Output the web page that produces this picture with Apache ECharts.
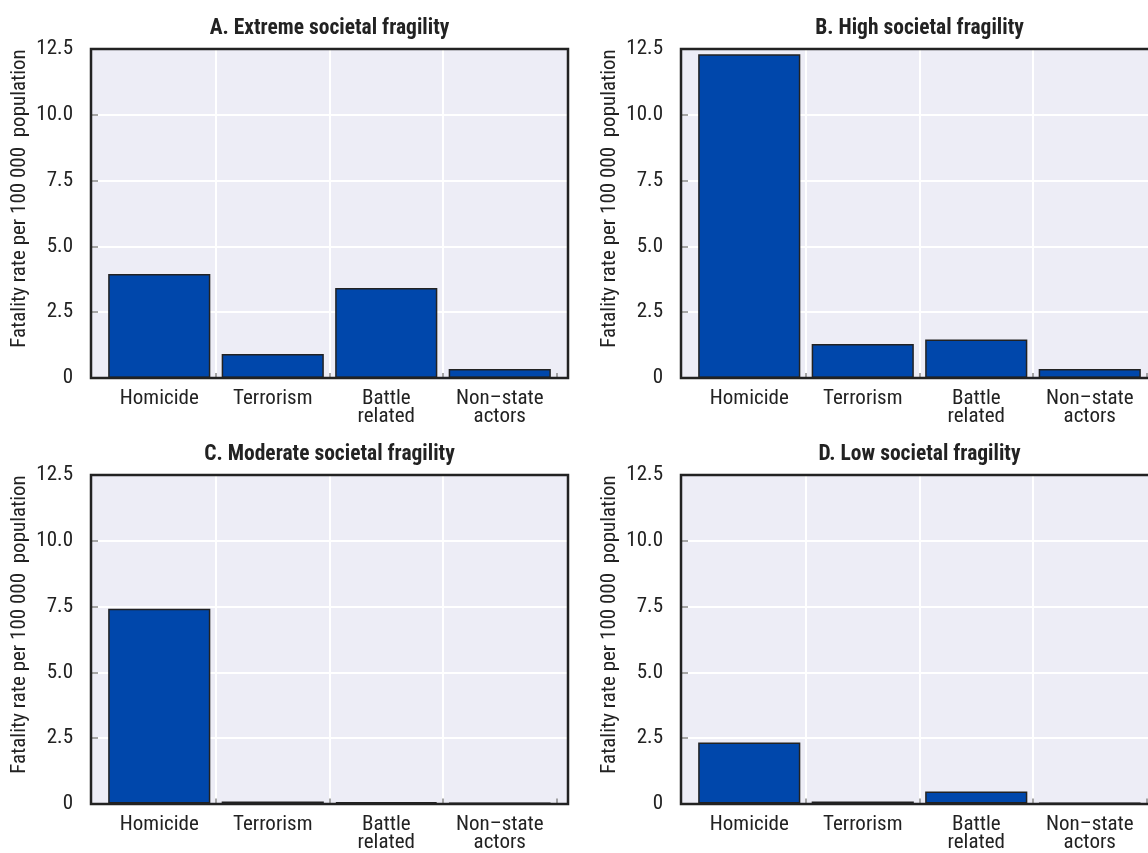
<!DOCTYPE html>
<html>
<head>
<meta charset="utf-8">
<script src="https://cdn.jsdelivr.net/npm/echarts@6/dist/echarts.min.js"></script>
<style>
html,body{margin:0;padding:0;background:#fff;}
#chart{width:1148px;height:853px;}
</style>
</head>
<body>
<div id="chart"></div>
<script>
const categories = ['Homicide', 'Terrorism', 'Battle\nrelated', 'Non\u2013state\nactors'];
const panelTitles = ['A. Extreme societal fragility', 'B. High societal fragility', 'C. Moderate societal fragility', 'D. Low societal fragility'];
const extremeValues = [3.95, 0.91, 3.42, 0.34];
const highValues = [12.3, 1.29, 1.46, 0.34];
const moderateValues = [7.41, 0.08, 0.05, 0.02];
const lowValues = [2.32, 0.08, 0.46, 0.02];
const yMin = 0, yMax = 12.5, yStep = 2.5;
const yAxisName = 'Fatality rate per 100 000  population';

const panelValues = [extremeValues, highValues, moderateValues, lowValues];
const FONT = "'Liberation Sans Narrow', 'Arial Narrow', 'Roboto Condensed', sans-serif";
const TXT = '#222';
const frames = [{left: 91, top: 49}, {left: 681, top: 49}, {left: 91, top: 475}, {left: 681, top: 475}];
const W = 477, H = 329, PAD = 11.5;

const grid = [], xAxis = [], yAxis = [], series = [], graphic = [];
frames.forEach((f, i) => {
  // frame grid (background + axis)
  grid.push({left: f.left, top: f.top, width: W, height: H, show: true,
    backgroundColor: '#EDEDF6', borderWidth: 0});
  // data grid (inset categories)
  grid.push({left: f.left + PAD, top: f.top, width: W - 2 * PAD, height: H, show: false});
  const fg = 2 * i, dg = 2 * i + 1;
  xAxis.push({gridIndex: fg, type: 'value', min: 0, max: 1, show: false});
  yAxis.push({gridIndex: fg, type: 'value', min: yMin, max: yMax, interval: yStep,
    axisLine: {show: false},
    axisTick: {show: true, inside: true, length: 7, lineStyle: {color: '#888', width: 1.5}},
    axisLabel: {color: TXT, fontFamily: FONT, fontSize: 21, margin: 18,
      formatter: v => v === 0 ? '0' : v.toFixed(1)},
    splitLine: {show: true, showMinLine: false, showMaxLine: false, lineStyle: {color: '#fff', width: 2}},
    name: yAxisName, nameLocation: 'middle', nameGap: 61, nameRotate: 90,
    nameTextStyle: {color: TXT, fontFamily: FONT, fontSize: 21, padding: [0, 0, 0, 30]}
  });
  xAxis.push({gridIndex: dg, type: 'category', data: categories, boundaryGap: true,
    axisLine: {show: false},
    axisTick: {show: true, inside: true, length: 5, lineStyle: {color: '#888', width: 1.5},
      interval: (idx) => idx !== 0},
    axisLabel: {color: TXT, fontFamily: FONT, fontSize: 21, lineHeight: 18, margin: 12, interval: 0},
    splitLine: {show: true, showMinLine: false, showMaxLine: false, lineStyle: {color: '#fff', width: 2}}
  });
  yAxis.push({gridIndex: dg, type: 'value', min: yMin, max: yMax, interval: yStep, show: false,
    splitLine: {show: false}});
  series.push({type: 'bar', xAxisIndex: dg, yAxisIndex: dg,
    data: panelValues[i], barWidth: '90%', z: 3,
    itemStyle: {color: '#0047AB', borderColor: '#222', borderWidth: 1.5}});
  // plot frame on top
  graphic.push({type: 'rect', z: 100, silent: true,
    shape: {x: f.left, y: f.top, width: W, height: H},
    style: {fill: 'none', stroke: '#222', lineWidth: 2.5}});
  graphic.push({type: 'text', x: f.left + W / 2, y: f.top - 20,
    style: {text: panelTitles[i], textAlign: 'center', textVerticalAlign: 'middle',
      fill: TXT, font: "bold 21.5px " + FONT}});
});

const chart = echarts.init(document.getElementById('chart'), null, {renderer: 'canvas'});
chart.setOption({animation: false, backgroundColor: '#fff', grid, xAxis, yAxis, series, graphic});
</script>
</body>
</html>
